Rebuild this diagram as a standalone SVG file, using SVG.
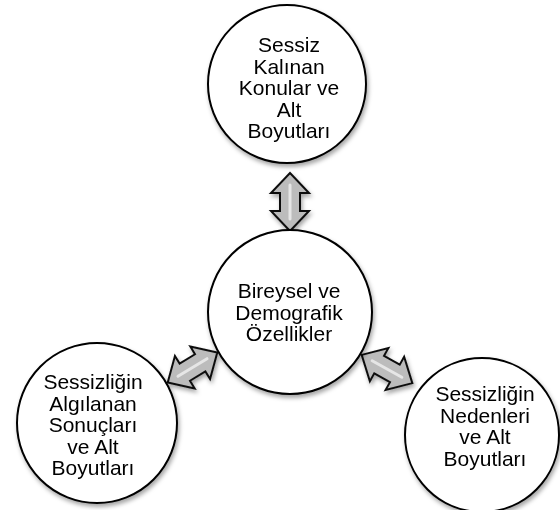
<svg xmlns="http://www.w3.org/2000/svg" width="560" height="510" viewBox="0 0 560 510">
<defs>
<filter id="sh" x="-20%" y="-20%" width="140%" height="140%">
<feDropShadow dx="1.5" dy="3" stdDeviation="2" flood-color="#000" flood-opacity="0.35"/>
</filter>
<g id="arrow">
<polygon points="-29,0 -9,-19 -9,-10 9,-10 9,-19 29,0 9,19 9,10 -9,10 -9,19" fill="#bcbcbc" stroke="#111" stroke-width="2" stroke-linejoin="miter"/>
<line x1="-17" y1="0" x2="17" y2="0" stroke="#e6e6e6" stroke-width="3" stroke-linecap="round"/>
</g>
</defs>
<style>
.node circle { fill: #fff; stroke: #000; stroke-width: 2; filter: url(#sh); }
.node text { font-family: "Liberation Sans", Arial, sans-serif; font-size: 21px; fill: #000; text-anchor: middle; }
</style>
<rect width="560" height="510" fill="#fff"/>
<g id="connectors" filter="url(#sh)">
<use href="#arrow" transform="translate(290,202) rotate(90)"/>
<use href="#arrow" transform="translate(192.5,367.5) rotate(-31.3)"/>
<use href="#arrow" transform="translate(387,369) rotate(29.2)"/>
</g>
<g id="top" class="node">
<circle cx="287" cy="84" r="79"/>
<text x="289" y="52">Sessiz</text>
<text x="289" y="73.5">Kalınan</text>
<text x="289" y="95">Konular ve</text>
<text x="289" y="116.5">Alt</text>
<text x="289" y="138">Boyutları</text>
</g>
<g id="center" class="node">
<circle cx="290" cy="312" r="82"/>
<text x="289" y="298">Bireysel ve</text>
<text x="289" y="319.5">Demografik</text>
<text x="289" y="341">Özellikler</text>
</g>
<g id="left" class="node">
<circle cx="97" cy="423" r="80"/>
<text x="93" y="389">Sessizliğin</text>
<text x="93" y="410.5">Algılanan</text>
<text x="93" y="432">Sonuçları</text>
<text x="93" y="453.5">ve Alt</text>
<text x="93" y="475">Boyutları</text>
</g>
<g id="right" class="node">
<circle cx="482" cy="435" r="77"/>
<text x="485" y="401">Sessizliğin</text>
<text x="485" y="422.5">Nedenleri</text>
<text x="485" y="444">ve Alt</text>
<text x="485" y="465.5">Boyutları</text>
</g>
</svg>
